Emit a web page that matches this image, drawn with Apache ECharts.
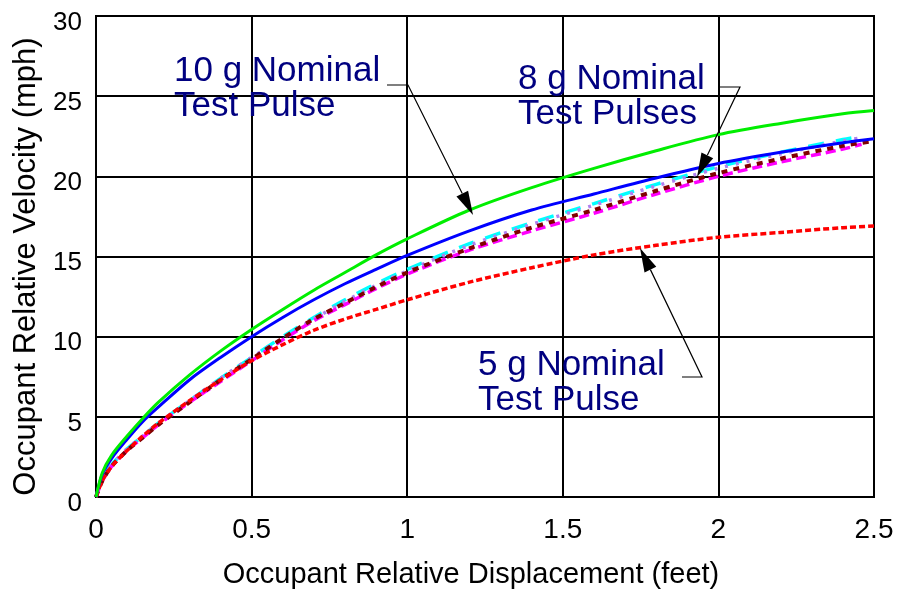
<!DOCTYPE html>
<html>
<head>
<meta charset="utf-8">
<script src="https://cdn.jsdelivr.net/npm/echarts@6/dist/echarts.min.js"></script>
<style>
  html, body { margin: 0; padding: 0; background: #fff; }
  #chart { width: 898px; height: 594px; }
</style>
</head>
<body>
<div id="chart"></div>
<script>
// displacement (feet) sample points
const disp = [0, 0.02, 0.05, 0.1, 0.15, 0.2, 0.3, 0.4, 0.5, 0.6, 0.7, 0.8, 0.9, 1.0, 1.2, 1.4, 1.6, 1.8, 2.0, 2.2, 2.4, 2.5];
const disp8 = [0, 0.02, 0.05, 0.1, 0.15, 0.2, 0.3, 0.4, 0.5, 0.6, 0.7, 0.8, 0.9, 1.0, 1.2, 1.4, 1.6, 1.8, 2.0, 2.2, 2.4, 2.46];

// velocities (mph)
const vel10 = [0, 1.5, 2.6, 3.8, 4.9, 5.9, 7.6, 9.1, 10.45, 11.7, 12.9, 14.0, 15.1, 16.1, 17.9, 19.3, 20.5, 21.6, 22.6, 23.3, 23.9, 24.1];
const velBlue = [0, 1.4, 2.4, 3.6, 4.7, 5.6, 7.3, 8.7, 10.0, 11.2, 12.3, 13.3, 14.2, 15.07, 16.6, 17.9, 18.9, 19.9, 20.8, 21.5, 22.1, 22.35];
const velCyan = [0, 1.1, 2.0, 3.0, 3.8, 4.6, 6.0, 7.4, 8.7, 10.0, 11.2, 12.3, 13.3, 14.2, 15.8, 17.1, 18.3, 19.5, 20.6, 21.5, 22.3, 22.5];
const velPurple = [0, 1.1, 2.0, 3.0, 3.8, 4.6, 6.0, 7.4, 8.7, 9.9, 11.1, 12.2, 13.2, 14.1, 15.7, 17.0, 18.2, 19.4, 20.5, 21.4, 22.2, 22.4];
const velMagenta = [0, 1.0, 1.9, 2.9, 3.7, 4.5, 5.9, 7.2, 8.5, 9.8, 11.0, 12.0, 13.0, 13.9, 15.4, 16.6, 17.7, 18.9, 20.0, 20.9, 21.7, 22.0];
const velMaroon = [0, 1.0, 1.9, 2.9, 3.7, 4.5, 5.9, 7.3, 8.6, 9.9, 11.1, 12.1, 13.1, 14.0, 15.5, 16.8, 17.9, 19.1, 20.2, 21.1, 21.9, 22.2];
const vel5 = [0, 1.0, 1.9, 2.9, 3.8, 4.6, 6.0, 7.3, 8.5, 9.5, 10.4, 11.1, 11.7, 12.3, 13.4, 14.3, 15.1, 15.7, 16.2, 16.5, 16.8, 16.9];

const xTicks = [0, 0.5, 1, 1.5, 2, 2.5];
const yTicks = [0, 5, 10, 15, 20, 25, 30];

const font = '"Liberation Sans", Arial, sans-serif';
const pairs = (xs, ys) => xs.map((x, i) => [x, ys[i]]);

function line(data, color, width, type) {
  return {
    type: "line",
    data: data,
    smooth: 0.3,
    symbol: "none",
    lineStyle: { color: color, width: width, type: type, cap: "butt" },
  };
}

// arrow: short horizontal lead then leader to tip
function arrow(h0, h1, tip) {
  const dx = tip[0] - h1[0], dy = tip[1] - h1[1];
  const len = Math.sqrt(dx * dx + dy * dy);
  const ux = dx / len, uy = dy / len;
  const L = 24, W = 6.5;
  const bx = tip[0] - ux * L, by = tip[1] - uy * L;
  return [
    { type: "polyline", shape: { points: [h0, h1, [bx, by]] }, style: { stroke: "#000", lineWidth: 1.2, fill: null }, z: 100 },
    {
      type: "polygon",
      shape: { points: [tip, [bx - uy * W, by + ux * W], [bx + uy * W, by - ux * W]] },
      style: { fill: "#000" },
      z: 100,
    },
  ];
}

function label(x, y, text) {
  return {
    type: "text",
    left: x,
    top: y,
    z: 100,
    style: { text: text, fill: "#000080", fontSize: 35, fontFamily: font, lineHeight: 35 },
  };
}

const chart = echarts.init(document.getElementById("chart"));
chart.setOption({
  animation: false,
  textStyle: { fontFamily: font },
  grid: { left: 96, right: 24, top: 16, bottom: 94, show: true, borderColor: "#000", borderWidth: 2 },
  xAxis: {
    type: "value",
    min: xTicks[0],
    max: xTicks[xTicks.length - 1],
    interval: 0.5,
    name: "Occupant Relative Displacement (feet)",
    nameLocation: "middle",
    nameGap: 63,
    nameTextStyle: { color: "#000", fontSize: 29, fontFamily: font, padding: [0, 28, 0, 0] },
    axisLine: { lineStyle: { color: "#000", width: 2 } },
    axisTick: { show: false },
    axisLabel: { color: "#000", fontSize: 28, margin: 19, fontFamily: font },
    splitLine: { lineStyle: { color: "#000", width: 2 } },
  },
  yAxis: {
    type: "value",
    min: yTicks[0],
    max: yTicks[yTicks.length - 1],
    interval: 5,
    name: "Occupant Relative Velocity (mph)",
    nameLocation: "middle",
    nameGap: 54,
    nameTextStyle: { color: "#000", fontSize: 31, fontFamily: font, padding: [0, 20, 0, 0] },
    axisLine: { lineStyle: { color: "#000", width: 2 } },
    axisTick: { show: false },
    axisLabel: { color: "#000", fontSize: 26, margin: 14, fontFamily: font, verticalAlign: "top", lineHeight: 13 },
    splitLine: { lineStyle: { color: "#000", width: 2 } },
  },
  series: [
    line(pairs(disp8, velCyan), "#00ffff", 3.5, [16, 12]),
    line(pairs(disp8, velPurple), "#b080f0", 3.5, [3, 8]),
    line(pairs(disp8, velMagenta), "#ff00ff", 3.5, [10, 5]),
    line(pairs(disp, velMaroon), "#800000", 4, [6, 6]),
    line(pairs(disp, vel5), "#ff0000", 3.5, [6, 3]),
    line(pairs(disp, velBlue), "#0000ff", 3, "solid"),
    line(pairs(disp, vel10), "#00ee00", 3, "solid"),
  ],
  graphic: [
    label(174, 54, "10 g Nominal\nTest Pulse"),
    label(518, 62, "8 g Nominal\nTest Pulses"),
    label(478, 348, "5 g Nominal\nTest Pulse"),
    ...arrow([387, 85], [408, 85], [473, 215]),
    ...arrow([719, 87], [740, 87], [697, 177]),
    ...arrow([682, 377], [702, 377], [640, 248]),
  ],
});
</script>
</body>
</html>
